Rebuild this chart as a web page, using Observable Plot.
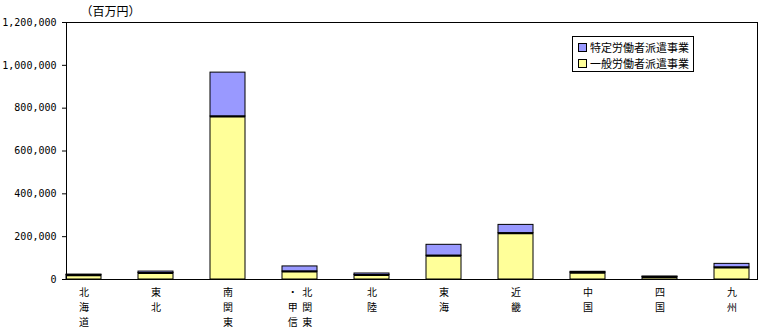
<!DOCTYPE html>
<html>
<head>
<meta charset="utf-8">
<script src="https://cdn.jsdelivr.net/npm/d3@7"></script>
<script src="https://cdn.jsdelivr.net/npm/@observablehq/plot@0.6"></script>
<style>
  html, body { margin: 0; padding: 0; background: #fff; }
  #wrap { position: relative; width: 758px; height: 328px; }
  #legend {
    position: absolute; left: 572px; top: 36px; width: 120px; height: 34px;
    border: 1px solid #000; background: #fff;
    font: 11px "Noto Sans CJK JP", sans-serif; color: #000;
  }
  #legend .row { position: absolute; left: 5px; display: flex; align-items: center; white-space: nowrap; }
  #legend .sw { width: 7px; height: 7px; border: 1px solid #000; margin-right: 3px; }
</style>
</head>
<body>
<div id="wrap"></div>
<script>
const regions = ["北海道", "東北", "南関東", "北関東・甲信", "北陸", "東海", "近畿", "中国", "四国", "九州"];
const regionLabels = ["北\n海\n道", "東\n北", "南\n関\n東", "・\u00A0\u00A0北\n甲\u00A0\u00A0関\n信\u00A0\u00A0東", "北\n陸", "東\n海", "近\n畿", "中\n国", "四\n国", "九\n州"];
const general = [20000, 30000, 761000, 37000, 21000, 111000, 216000, 32000, 12000, 56000];
const specific = [3000, 7000, 205000, 24000, 7000, 51000, 39000, 4000, 2000, 17000];
const seriesNames = ["特定労働者派遣事業", "一般労働者派遣事業"];
const seriesColors = ["#9999FF", "#FFFF99"];
const yTicks = [0, 200000, 400000, 600000, 800000, 1000000, 1200000];
const unitLabel = "（百万円）";

const rows = [];
regions.forEach((r, i) => {
  rows.push({region: r, series: seriesNames[1], value: general[i]});
  rows.push({region: r, series: seriesNames[0], value: specific[i]});
});
const tops = regions.map((r, i) => ({region: r, value: general[i]}));
const labelRows = regions.map((r, i) => ({region: r, label: regionLabels[i]}));

const chart = Plot.plot({
  width: 758,
  height: 328,
  marginLeft: 66,
  marginRight: 1,
  marginTop: 22,
  marginBottom: 49,
  style: {fontFamily: "'Noto Sans CJK JP', sans-serif", fontSize: "11px", color: "#000", background: "#fff"},
  x: {domain: regions, range: [66, 757], paddingInner: 0.508, paddingOuter: 0.04, align: 0, label: null, axis: null},
  y: {domain: [0, 1200000], label: null},
  color: {domain: seriesNames, range: seriesColors},
  marks: [
    Plot.barY(rows, Plot.stackY({x: "region", y: "value", fill: "series", order: [seriesNames[1], seriesNames[0]], stroke: "#000", strokeWidth: 1})),
    Plot.tickY(tops, {x: "region", y: "value", stroke: "#000", strokeWidth: 2}),
    Plot.frame({stroke: "#000", strokeWidth: 1}),
    Plot.axisY({ticks: yTicks, tickFormat: d3.format(","), tickSize: 4, tickPadding: 6, fontFamily: "'DejaVu Sans Mono', monospace", fontSize: 10, label: null}),
    Plot.text(labelRows, {x: "region", text: "label", frameAnchor: "bottom", lineAnchor: "top", dy: 6, lineHeight: 1.5, fontSize: 10}),
    Plot.text([unitLabel], {text: d => d, frameAnchor: "top-left", dx: 14, dy: -15, textAnchor: "start", fontSize: 12})
  ]
});

const wrap = document.getElementById("wrap");
wrap.appendChild(chart);
const legend = document.createElement("div");
legend.id = "legend";
seriesNames.forEach((name, i) => {
  const row = document.createElement("div");
  row.className = "row";
  row.style.top = (i === 0 ? 2 : 18) + "px";
  const sw = document.createElement("span");
  sw.className = "sw";
  sw.style.background = seriesColors[i];
  const t = document.createElement("span");
  t.textContent = name;
  row.appendChild(sw);
  row.appendChild(t);
  legend.appendChild(row);
});
wrap.appendChild(legend);
</script>
</body>
</html>
